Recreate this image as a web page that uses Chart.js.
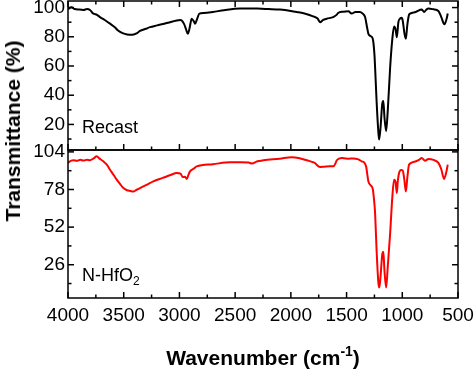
<!DOCTYPE html>
<html>
<head>
<meta charset="utf-8">
<script src="https://cdn.jsdelivr.net/npm/chart.js@4/dist/chart.umd.min.js"></script>
<style>
  body { margin: 0; background: #fff; }
  #wrap { position: relative; width: 474px; height: 370px; overflow: hidden; font-family: "Liberation Sans", Arial, sans-serif; color: #000; }
  canvas { position: absolute; left: 0; }
  #topChart { top: 0; }
  #botChart { top: 130px; }
  .lbl { position: absolute; font-size: 18px; white-space: nowrap; }
  .lbl sub { font-size: 12px; vertical-align: -4px; line-height: 0; }
  #xTitle { position: absolute; left: 0; width: 526px; top: 346px; text-align: center; font-size: 21px; font-weight: bold; white-space: nowrap; }
  #xTitle sup { font-size: 14px; vertical-align: 9px; line-height: 0; }
  #yTitle { position: absolute; left: 13px; top: 131px; transform: translate(-50%, -50%) rotate(-90deg); font-size: 21px; font-weight: bold; white-space: nowrap; }
</style>
</head>
<body>
<div id="wrap">
  <canvas id="topChart" width="474" height="151"></canvas>
  <canvas id="botChart" width="474" height="240"></canvas>
  <div class="lbl" style="left:82px; top:117px;">Recast</div>
  <div class="lbl" style="left:82px; top:265px;">N-HfO<sub>2</sub></div>
  <div id="yTitle">Transmittance (%)</div>
  <div id="xTitle">Wavenumber (cm<sup>-1</sup>)</div>
</div>
<script>
// wavenumber axis
const X_TICKS = [4000, 3500, 3000, 2500, 2000, 1500, 1000, 500];
const X_MINOR = [3750, 3250, 2750, 2250, 1750, 1250, 750];

// y ticks for each panel
const TOP_TICKS = [20, 40, 60, 80, 100];
const TOP_MINOR = [10, 30, 50, 70, 90];
const BOT_TICKS = [26, 52, 78, 104];
const BOT_MINOR = [13, 39, 65, 91];

// Recast (black)
const recastWn = [4000, 3970, 3940, 3900, 3860, 3830, 3800, 3775, 3740, 3713, 3670, 3623, 3580, 3551, 3510, 3470, 3420, 3380, 3354, 3300,
  3264, 3200, 3114, 3060, 3024, 2990, 2960, 2940, 2925, 2910, 2890, 2870, 2860, 2840, 2821, 2780, 2700, 2600, 2456, 2300,
  2200, 2097, 2000, 1947, 1870, 1800, 1760, 1738, 1710, 1678, 1620, 1590, 1576, 1530, 1484, 1454, 1420, 1379, 1350, 1334,
  1315, 1304, 1285, 1265, 1250, 1244, 1230, 1215, 1208, 1195, 1180, 1170, 1160, 1145, 1130, 1109, 1090, 1074, 1060, 1049,
  1035, 1020, 1005, 996, 980, 968, 955, 940, 930, 880, 825, 804, 785, 766, 720, 676, 650, 622, 600, 592];
const recastT = [99.0, 100.2, 99.0, 98.6, 98.4, 99.0, 98.2, 96.0, 95.0, 93.5, 91.5, 89.0, 86.5, 84.3, 82.5, 81.6, 81.4, 82.5, 84.0, 85.5,
  86.6, 87.8, 89.4, 90.5, 91.2, 91.5, 89.0, 85.0, 82.0, 85.5, 92.4, 90.5, 89.0, 92.5, 95.9, 96.3, 97.0, 98.2, 99.3, 99.3,
  99.0, 98.6, 97.7, 97.0, 95.8, 94.0, 92.5, 90.0, 91.6, 92.4, 93.5, 95.0, 96.3, 97.2, 97.4, 95.9, 97.0, 97.0, 95.5, 93.5,
  86.0, 82.0, 80.5, 78.6, 68.0, 59.0, 35.0, 15.0, 9.7, 18.0, 34.0, 36.0, 25.0, 15.4, 30.0, 59.0, 78.0, 87.0, 85.0, 79.7,
  90.0, 92.4, 93.0, 91.0, 82.0, 78.6, 88.0, 95.0, 95.9, 97.0, 98.6, 97.0, 98.5, 99.3, 98.8, 97.7, 93.5, 88.5, 93.0, 95.9];

// N-HfO2 (red)
const nhfWn = [4000, 3970, 3952, 3920, 3890, 3860, 3830, 3803, 3770, 3742, 3720, 3683, 3650, 3623, 3590, 3563, 3530, 3503, 3470, 3440,
  3414, 3390, 3354, 3300, 3234, 3150, 3080, 3024, 2990, 2970, 2950, 2934, 2920, 2905, 2870, 2845, 2700, 2546, 2450, 2380,
  2351, 2300, 2247, 2100, 1993, 1930, 1857, 1790, 1738, 1700, 1648, 1618, 1600, 1588, 1543, 1510, 1484, 1440, 1400, 1364,
  1340, 1325, 1304, 1285, 1265, 1250, 1244, 1230, 1215, 1206, 1195, 1180, 1170, 1160, 1145, 1130, 1109, 1090, 1074, 1060,
  1049, 1040, 1029, 1010, 996, 982, 968, 955, 939, 900, 850, 825, 796, 766, 720, 676, 650, 625, 605, 592];
const nhfT = [96.4, 98.0, 98.2, 97.8, 98.5, 98.0, 98.6, 98.2, 99.5, 101.0, 99.5, 97.5, 95.0, 91.7, 88.0, 84.8, 81.5, 79.0, 77.5, 77.0,
  76.6, 77.5, 79.0, 81.0, 83.6, 86.0, 88.0, 89.4, 89.0, 86.6, 86.8, 85.3, 88.0, 90.5, 92.5, 94.0, 95.5, 96.8, 96.8, 96.6,
  96.0, 97.5, 98.2, 99.3, 100.3, 99.8, 98.2, 96.5, 93.6, 93.8, 94.0, 94.0, 96.0, 98.2, 99.8, 99.5, 99.3, 99.5, 99.0, 97.5,
  96.5, 94.0, 83.6, 81.0, 78.3, 68.0, 61.6, 35.0, 14.0, 10.2, 18.0, 33.0, 35.0, 22.0, 10.2, 25.0, 47.7, 72.0, 84.8, 83.0,
  75.5, 84.0, 89.4, 91.5, 91.2, 85.0, 76.6, 86.0, 95.2, 97.0, 98.5, 99.8, 97.9, 99.1, 98.5, 96.4, 92.0, 85.3, 90.0, 95.2];

const FONT = { family: "'Liberation Sans', Arial, sans-serif", size: 19 };

// frame + inward tick marks on the plot box
const frameTicks = {
  id: "frameTicks",
  afterDatasetsDraw(chart, args, opts) {
    const { ctx, chartArea: a, scales } = chart;
    const x = scales.x, y = scales.y;
    ctx.save();
    ctx.strokeStyle = "#000";
    ctx.lineWidth = 1.5;
    ctx.strokeRect(a.left, a.top, a.right - a.left, a.bottom - a.top);

    const line = (x1, y1, x2, y2) => {
      ctx.beginPath();
      ctx.moveTo(x1, y1);
      ctx.lineTo(x2, y2);
      ctx.stroke();
    };
    const xMark = (v, len) => {
      const px = x.getPixelForValue(v);
      if (opts.xEdges.includes("top")) line(px, a.top, px, a.top + len);
      if (opts.xEdges.includes("bottom")) line(px, a.bottom, px, a.bottom - len);
    };
    const yMark = (v, len) => {
      const py = y.getPixelForValue(v);
      if (py < a.top || py > a.bottom) return;
      line(a.left, py, a.left + len, py);
      line(a.right, py, a.right - len, py);
    };
    X_TICKS.forEach(v => xMark(v, 6));
    X_MINOR.forEach(v => xMark(v, 3.5));
    opts.yMajor.forEach(v => yMark(v, 6));
    opts.yMinor.forEach(v => yMark(v, 3.5));
    ctx.restore();
  }
};

function makeChart(canvas, wn, vals, color, yCfg, showX, pad) {
  const points = wn.map((w, i) => ({ x: w, y: vals[i] }));
  return new Chart(canvas, {
    type: "line",
    data: {
      datasets: [{
        data: points,
        borderColor: color,
        borderWidth: 2,
        pointRadius: 0,
        fill: false,
        cubicInterpolationMode: "monotone"
      }]
    },
    options: {
      responsive: false,
      animation: false,
      layout: { padding: pad },
      plugins: {
        legend: { display: false },
        tooltip: { enabled: false },
        frameTicks: { xEdges: showX ? ["bottom"] : ["top", "bottom"], yMajor: yCfg.ticks, yMinor: yCfg.minor }
      },
      scales: {
        x: {
          type: "linear",
          reverse: true,
          min: 500,
          max: 4000,
          display: showX,
          afterBuildTicks: s => { s.ticks = X_TICKS.map(v => ({ value: v })); },
          afterFit: s => {
            s.height = showX ? 72 : 0;
            s.paddingLeft = 0;
            s.paddingRight = 0;
          },
          grid: { display: false, drawTicks: false },
          border: { display: false },
          ticks: { font: FONT, color: "#000", padding: 6, maxRotation: 0, autoSkip: false, callback: v => String(v) }
        },
        y: {
          min: yCfg.min,
          max: yCfg.max,
          afterBuildTicks: s => { s.ticks = yCfg.ticks.map(v => ({ value: v })); },
          afterFit: s => {
            s.width = 68;
            s.paddingTop = 0;
            s.paddingBottom = 0;
          },
          grid: { display: false, drawTicks: false },
          border: { display: false },
          ticks: { font: FONT, color: "#000", padding: 3 }
        }
      }
    },
    plugins: [frameTicks]
  });
}

makeChart(document.getElementById("topChart"), recastWn, recastT, "#000000",
  { min: 2.5, max: 104.5, ticks: TOP_TICKS, minor: TOP_MINOR }, false,
  { top: 1, right: 16, bottom: 1, left: 0 });

makeChart(document.getElementById("botChart"), nhfWn, nhfT, "#ff0000",
  { min: 3, max: 105.3, ticks: BOT_TICKS, minor: BOT_MINOR }, true,
  { top: 20, right: 16, bottom: 0, left: 0 });
</script>
</body>
</html>
